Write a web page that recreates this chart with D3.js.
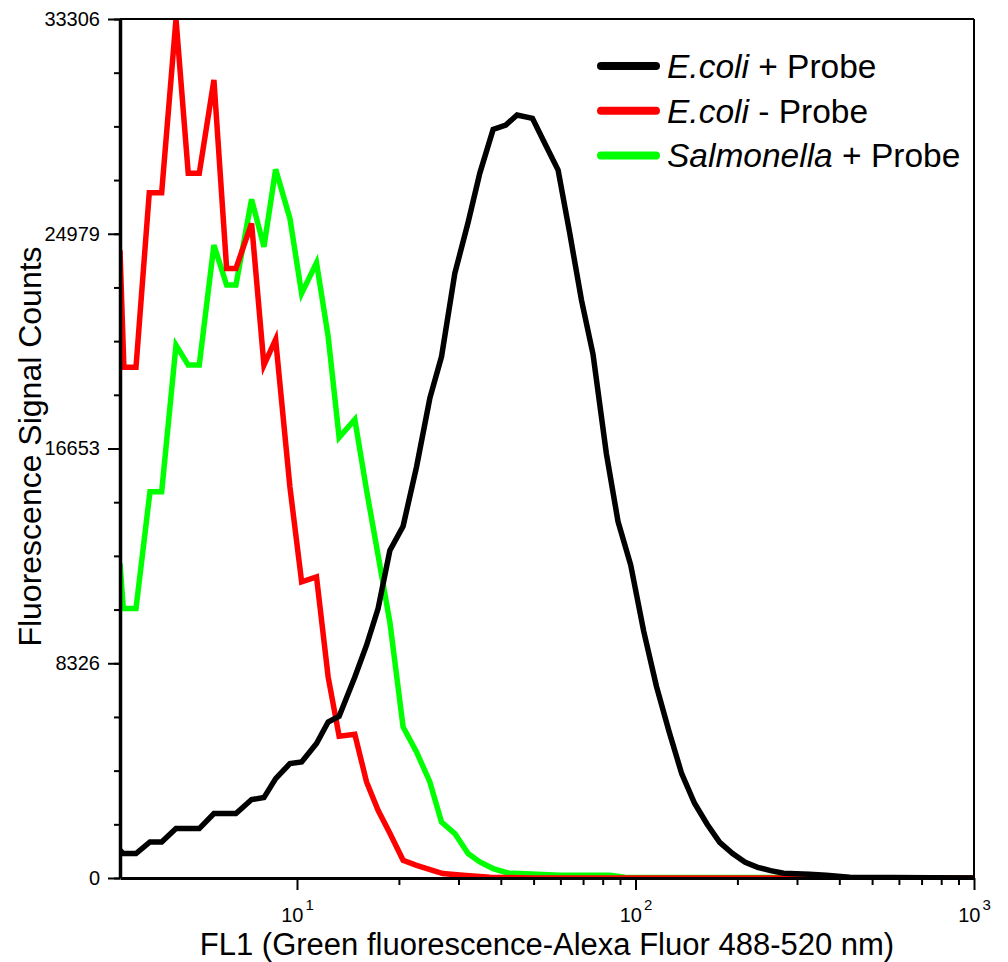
<!DOCTYPE html>
<html>
<head>
<meta charset="utf-8">
<script src="https://cdn.jsdelivr.net/npm/d3@7"></script>
<style>
  body { margin: 0; background: #fff; }
  svg { display: block; font-family: "Liberation Sans", Arial, sans-serif; }
</style>
</head>
<body>
<div id="chart"></div>
<script>
// Histogram channels (FL1) and counts, one pair per sample.
var ecoliProbeFL1 = [3.0, 3.068, 3.345, 3.678, 3.983, 4.391, 4.772, 5.144, 5.683, 6.196, 6.601, 7.343, 7.987, 8.648, 9.529,
    10.32, 11.42, 12.36, 13.32, 14.82, 16.05, 17.36, 18.81, 20.58, 22.55, 24.69, 26.72, 29.26, 32.02, 34.67, 37.97,
    41.39, 44.68, 49.62, 53.94, 59.07, 63.94, 69.24, 74.9, 82.04, 88.8, 96.8, 105.7, 115.3, 125.7, 136.9, 149.4,
    162.8, 177.3, 193.6, 211, 229.6, 250.7, 273.9, 299, 326.7, 366, 429, 1000];
var ecoliProbeCounts = [1074, 946, 946, 1396, 1396, 1916, 1916, 1916, 2498, 2498, 2498, 3041, 3118, 3855, 4437,
    4499, 5213, 6051, 6272, 7796, 9026, 10449, 12700, 13640, 15941, 18606, 20208, 23443, 25417, 27322, 29028,
    29195, 29583, 29455, 28489, 27450, 24995, 22407, 20313, 16450, 13820, 12133, 9577, 7436, 5675, 4045, 2897,
    2083, 1385, 946, 613, 415, 287, 186, 163, 143, 105, 27, 0];

var ecoliNoProbeFL1 = [3.0, 3.08, 3.345, 3.661, 3.983, 4.391, 4.772, 5.144, 5.683, 6.196, 6.601, 7.343, 7.987, 8.648,
    9.529, 10.32, 11.42, 12.36, 13.32, 14.82, 16.05, 17.36, 18.81, 20.58, 22.55, 26.96, 30.89, 37.1, 50, 1000];
var ecoliNoProbeCounts = [24340, 19808, 19808, 26569, 26569, 33306, 27322, 27322, 30940, 23637, 23637, 25382, 19886, 20883,
    15166, 11481, 11675, 7796, 5496, 5574, 3724, 2626, 1734, 687, 493, 171, 105, 27, 0, 0];

var salmonellaFL1 = [3.0, 3.068, 3.345, 3.678, 3.983, 4.391, 4.772, 5.144, 5.683, 6.196, 6.601, 7.343, 7.987, 8.648,
    9.529, 10.32, 11.42, 12.36, 13.32, 14.82, 16.05, 17.36, 18.81, 20.58, 22.55, 24.69, 26.72, 29.26, 32.02, 34.67,
    37.97, 41.94, 45.5, 59.7, 83.9, 92.9, 1000];
var salmonellaCounts = [12195, 10449, 10449, 14972, 14972, 20662, 19886, 19886, 24541, 22989, 22989, 26313, 24475, 27477,
    25576, 22667, 23854, 21000, 17082, 17780, 15038, 12517, 9918, 5857, 4887, 3724, 2172, 1722, 946, 621,
    365, 194, 171, 105, 105, 27, 0];

var yTickValues = [0, 8326, 16653, 24979, 33306];
var xTickValues = [10, 100, 1000];
var xMinorTicks = [20, 30, 40, 50, 60, 70, 80, 90, 200, 300, 400, 500, 600, 700, 800, 900];

var legendItalic = ["E.coli", "E.coli", "Salmonella"];
var legendRest = [" + Probe", " - Probe", " + Probe"];
var seriesColors = ["#000000", "#ff0000", "#00ff00"];

var series = [
    d3.zip(ecoliProbeFL1, ecoliProbeCounts),
    d3.zip(ecoliNoProbeFL1, ecoliNoProbeCounts),
    d3.zip(salmonellaFL1, salmonellaCounts)
];

var margin = { top: 19, right: 34, bottom: 84, left: 120 },
    width = 1008 - margin.left - margin.right,
    height = 962 - margin.top - margin.bottom;

var x = d3.scaleLog().domain([3, 1000]).range([0, width]);
var y = d3.scaleLinear().domain([0, 33306]).range([height, 0]);

var svgRoot = d3.select("#chart").append("svg")
    .attr("width", width + margin.left + margin.right)
    .attr("height", height + margin.top + margin.bottom);

var svg = svgRoot.append("g")
    .attr("transform", "translate(" + margin.left + "," + margin.top + ")");

svg.append("clipPath").attr("id", "plot-clip")
    .append("rect").attr("width", width).attr("height", height);

// curves, drawn first so the axes sit on top of them
var line = d3.line()
    .x(function (d) { return x(d[0]); })
    .y(function (d) { return y(d[1]); });

svg.append("g").attr("clip-path", "url(#plot-clip)")
    .selectAll("path")
    .data(series.slice().reverse())
    .enter().append("path")
    .attr("d", line)
    .attr("fill", "none")
    .attr("stroke", function (d, i) { return seriesColors[2 - i]; })
    .attr("stroke-width", 5.5)
    .attr("stroke-linejoin", "miter");

// y axis: minor ticks then major ticks with labels
var yMinor = d3.range(17).map(function (i) { return i * 33306 / 16; });
svg.append("g")
    .call(d3.axisLeft(y).tickValues(yMinor).tickSize(6).tickFormat(""))
    .call(function (g) { g.select(".domain").remove(); })
    .selectAll("line").attr("stroke-width", 2);

var yAxis = svg.append("g")
    .call(d3.axisLeft(y).tickValues(yTickValues).tickSize(12).tickSizeOuter(0).tickPadding(8)
        .tickFormat(d3.format("d")));
yAxis.select(".domain").attr("stroke-width", 3.5);
yAxis.selectAll("line").attr("stroke-width", 2);
yAxis.selectAll("text").attr("font-size", 20).attr("font-family", null).attr("fill", "#000");

// x axis: log scale, minor ticks then decades
svg.append("g")
    .attr("transform", "translate(0," + height + ")")
    .call(d3.axisBottom(x).tickValues(xMinorTicks).tickSize(7).tickFormat(""))
    .call(function (g) { g.select(".domain").remove(); })
    .selectAll("line").attr("stroke-width", 2);

var xAxis = svg.append("g")
    .attr("transform", "translate(0," + height + ")")
    .call(d3.axisBottom(x).tickValues(xTickValues).tickSize(12).tickSizeOuter(0).tickFormat(""));
xAxis.select(".domain").attr("stroke-width", 3);
xAxis.selectAll("line").attr("stroke-width", 2);
xAxis.selectAll(".tick text")
    .attr("y", 44).attr("dy", 0).attr("font-size", 20).attr("font-family", null).attr("fill", "#000")
    .each(function (d) {
        var t = d3.select(this);
        t.append("tspan").text("10");
        t.append("tspan").attr("dx", 2).attr("dy", -12).attr("font-size", 15)
            .text(Math.round(Math.log10(d)));
    });

// frame
svg.append("line").attr("x1", 0).attr("x2", width).attr("y1", 0).attr("y2", 0)
    .attr("stroke", "#000").attr("stroke-width", 2);
svg.append("line").attr("x1", width).attr("x2", width).attr("y1", 0).attr("y2", height)
    .attr("stroke", "#000").attr("stroke-width", 2);

// axis titles
svgRoot.append("text")
    .attr("x", margin.left + width / 2).attr("y", 955)
    .attr("text-anchor", "middle").attr("font-size", 31)
    .text("FL1 (Green fluorescence-Alexa Fluor 488-520 nm)");

svgRoot.append("text")
    .attr("transform", "translate(41," + (margin.top + height / 2 - 2) + ") rotate(-90)")
    .attr("text-anchor", "middle").attr("font-size", 32)
    .text("Fluorescence Signal Counts");

// legend
var legend = svgRoot.append("g").selectAll("g")
    .data(legendItalic)
    .enter().append("g")
    .attr("transform", function (d, i) { return "translate(601," + (66 + i * 44.7) + ")"; });

legend.append("line")
    .attr("x1", 0).attr("x2", 55)
    .attr("stroke", function (d, i) { return seriesColors[i]; })
    .attr("stroke-width", 8)
    .attr("stroke-linecap", "round");

var legendText = legend.append("text")
    .attr("x", 66).attr("y", 12)
    .attr("font-size", 33.5);
legendText.append("tspan").attr("font-style", "italic").text(function (d) { return d; });
legendText.append("tspan").text(function (d, i) { return legendRest[i]; });
</script>
</body>
</html>
